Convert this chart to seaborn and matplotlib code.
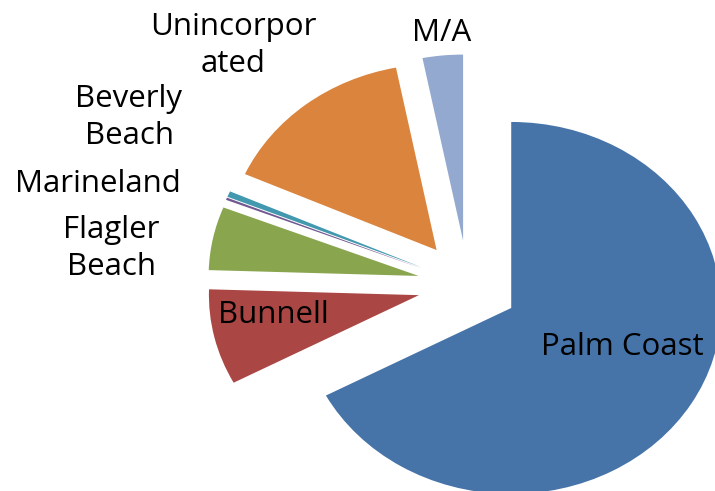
import matplotlib
matplotlib.use("Agg")
import matplotlib.pyplot as plt
import seaborn as sns

# share of each area (percent)
areas = ['Palm Coast', 'Bunnell', 'Flagler Beach', 'Marineland', 'Beverly Beach', 'Unincorporated', 'M/A']
shares = [67.2, 8.3, 5.5, 0.2, 0.5, 15.2, 3.1]
label_text = ['Palm Coast', 'Bunnell', 'Flagler\nBeach', 'Marineland', 'Beverly\nBeach', 'Unincorpor\nated', 'M/A']
colors = ['#4674A8', '#AA4744', '#89A54E', '#71588F', '#4198AF', '#DB843D', '#93A9CF']

sns.set_theme(style="white")
plt.rcParams['font.family'] = ['Open Sans', 'DejaVu Sans']

W, H = 715, 491
fig = plt.figure(figsize=(W / 100, H / 100), dpi=100)
ax = fig.add_axes([0, 0, 1, 1])

# pie centre in pixels and pixel size of one radius (the original is stretched sideways)
cx, cy = 468, 285
rx, ry = 210, 186

ax.pie(shares, colors=sns.color_palette(colors), startangle=90, counterclock=False,
       explode=[0.24] * len(shares), radius=1, wedgeprops=dict(linewidth=0))
ax.set_aspect('auto')
ax.set_xlim(-cx / rx, (W - cx) / rx)
ax.set_ylim((cy - H) / ry, cy / ry)
ax.axis('off')

# label anchors: centre x, baseline y of the last line (pixels)
label_pos = [(622, 355), (273, 323), (111, 275), (98, 192), (129, 144), (233, 72), (442, 41)]
for txt, (px, py) in zip(label_text, label_pos):
    fig.text(px / W, 1 - py / H, txt, ha='center', va='baseline', fontsize=22.5,
             color='black', linespacing=1.32, multialignment='center')

fig.savefig('out.png', dpi=100)
